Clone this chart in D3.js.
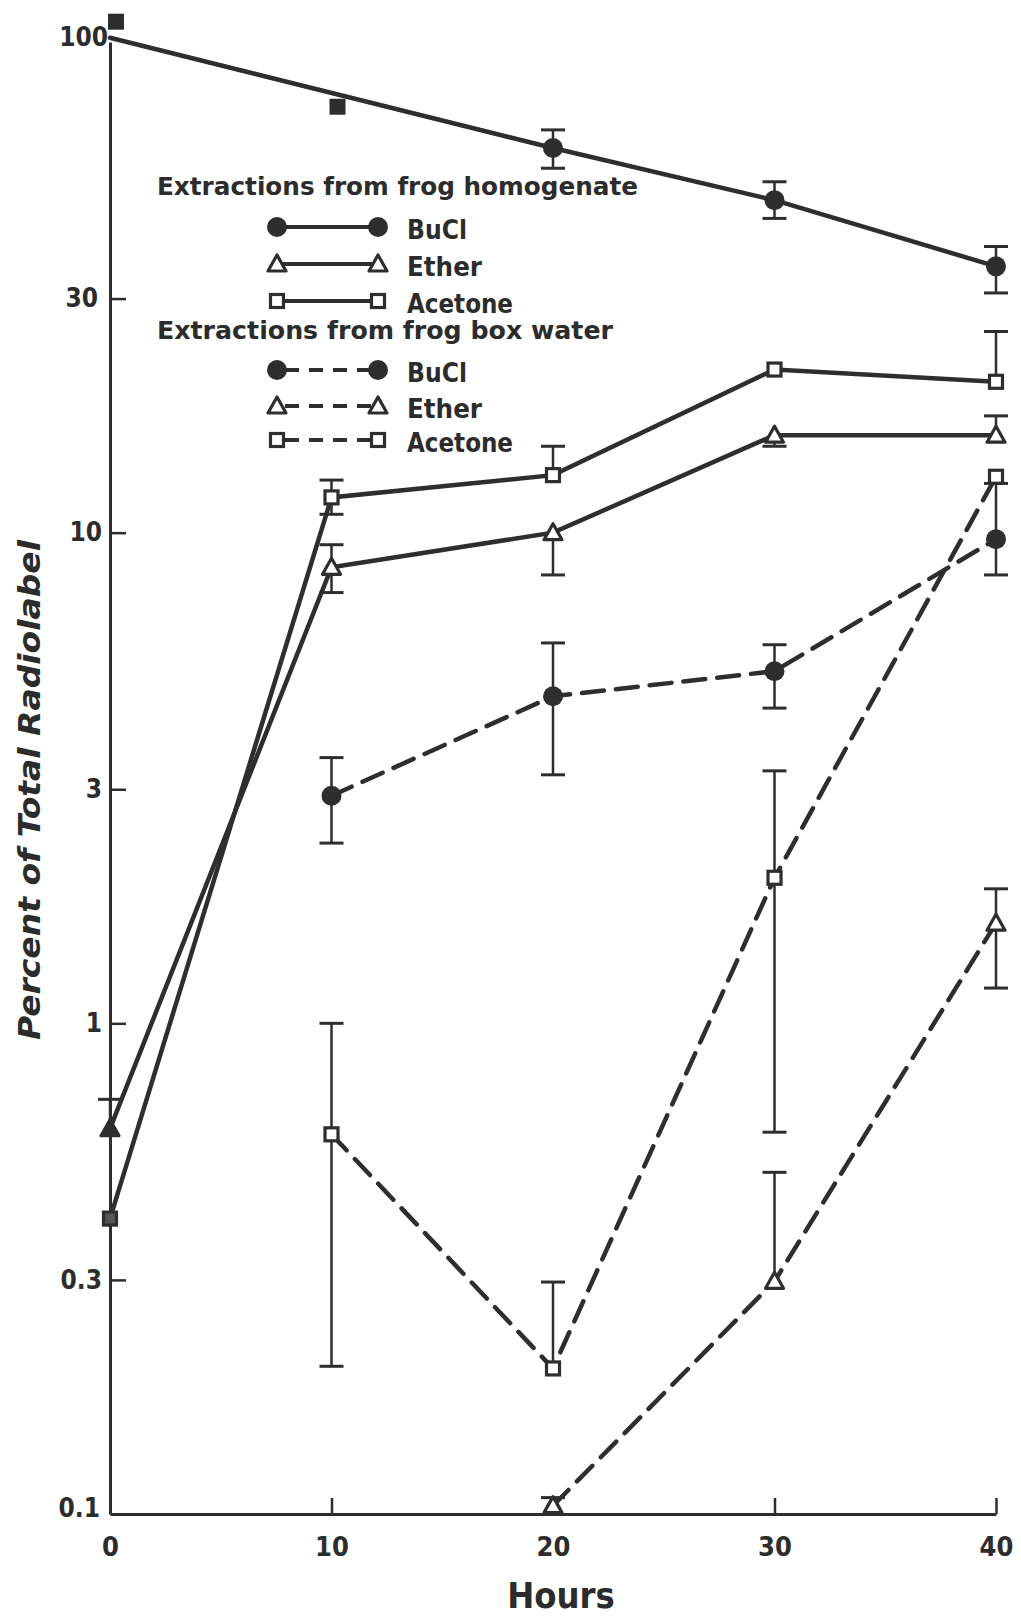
<!DOCTYPE html>
<html>
<head>
<meta charset="utf-8">
<script src="https://cdn.jsdelivr.net/npm/d3@7"></script>
<style>
  html, body { margin: 0; padding: 0; background: #ffffff; }
  svg { display: block; }
  text {
    font-family: "DejaVu Sans Condensed", "Liberation Sans Narrow", "DejaVu Sans", sans-serif;
    font-weight: bold;
    fill: #2c2c2c;
  }
</style>
</head>
<body>
<svg id="chart" width="1021" height="1618"></svg>
<script>
// ---- Axis ticks ----
const hourTicks = [0, 10, 20, 30, 40];
const percentTicks = [0.1, 0.3, 1, 3, 10, 30, 100];
const percentTickLabels = ["0.1", "0.3", "1", "3", "10", "30", "100"];

// ---- Extractions from frog homogenate ----
// BuCl: solid line with filled circles (plus the two early filled squares)
const homBuClHours = [0, 20, 30, 40];
const homBuClValues = [102, 60.8, 47.6, 34.9];
const homBuClLow = [null, 55.3, 43.7, 30.8];
const homBuClHigh = [null, 66.2, 51.9, 38.3];
const homBuClEarlyHours = [0, 10];
const homBuClEarlyValues = [110, 73.8];

// Ether: solid line with open triangles
const homEtherHours = [0, 10, 20, 30, 40];
const homEtherValues = [0.61, 8.5, 10.0, 15.8, 15.8];
const homEtherLow = [null, 7.55, 8.2, 15.0, null];
const homEtherHigh = [0.70, 9.45, null, null, 17.3];

// Acetone: solid line with open squares
const homAcetoneHours = [0, 10, 20, 30, 40];
const homAcetoneValues = [0.40, 11.8, 13.1, 21.5, 20.3];
const homAcetoneLow = [null, 10.9, null, null, null];
const homAcetoneHigh = [null, 12.8, 15.0, null, 25.7];

// ---- Extractions from frog box water ----
const boxBuClHours = [10, 20, 30, 40];
const boxBuClValues = [2.91, 4.64, 5.22, 9.7];
const boxBuClLow = [2.33, 3.21, 4.39, 8.2];
const boxBuClHigh = [3.48, 5.96, 5.91, 12.6];

const boxEtherHours = [20, 30, 40];
const boxEtherValues = [0.104, 0.298, 1.6];
const boxEtherLow = [null, null, 1.18];
const boxEtherHigh = [0.108, 0.497, 1.88];

const boxAcetoneHours = [10, 20, 30, 40];
const boxAcetoneValues = [0.594, 0.198, 1.98, 13.0];
const boxAcetoneLow = [0.2, null, 0.6, null];
const boxAcetoneHigh = [1.0, 0.297, 3.27, null];

// ---- Legend ----
const legendTitles = ["Extractions from frog homogenate", "Extractions from frog box water"];
const legendNames = ["BuCl", "Ether", "Acetone"];

const ink = "#2e2e2e";
const svg = d3.select("#chart");

const x = d3.scaleLinear().domain([0, 40]).range([110, 996]);
const y = d3.scaleLog().domain([0.1, 100]).range([1514, 42]);

function zip(hours, values, low, high) {
  return hours.map((h, i) => ({ h, v: values[i], lo: low ? low[i] : null, hi: high ? high[i] : null }));
}

// startMark: whether the first point of the series carries its own marker
const series = [
  { pts: zip(homBuClHours, homBuClValues, homBuClLow, homBuClHigh), marker: "circle", dashed: false, startMark: false },
  { pts: zip(homEtherHours, homEtherValues, homEtherLow, homEtherHigh), marker: "triangle", dashed: false, startMark: true },
  { pts: zip(homAcetoneHours, homAcetoneValues, homAcetoneLow, homAcetoneHigh), marker: "square", dashed: false, startMark: true },
  { pts: zip(boxBuClHours, boxBuClValues, boxBuClLow, boxBuClHigh), marker: "circle", dashed: true, startMark: true },
  { pts: zip(boxEtherHours, boxEtherValues, boxEtherLow, boxEtherHigh), marker: "triangle", dashed: true, startMark: true },
  { pts: zip(boxAcetoneHours, boxAcetoneValues, boxAcetoneLow, boxAcetoneHigh), marker: "square", dashed: true, startMark: true }
];

// ---- Axes ----
const yAxis = d3.axisLeft(y)
  .tickValues(percentTicks)
  .tickFormat((d, i) => percentTickLabels[i])
  .tickSizeInner(-16)
  .tickSizeOuter(0)
  .tickPadding(8);

const gy = svg.append("g").attr("transform", `translate(${x(0)},0)`).call(yAxis);
gy.select(".domain").attr("stroke", ink).attr("stroke-width", 3);
gy.selectAll(".tick line").attr("stroke", ink).attr("stroke-width", 2.5)
  .filter(d => d === 100 || d === 0.1).remove();
gy.selectAll(".tick text")
  .attr("font-size", 26)
  .attr("fill", ink);
gy.selectAll(".tick text").filter(d => d === 0.1).attr("dy", "0.1em").attr("x", -10);
gy.selectAll(".tick text").filter(d => d === 100).attr("dy", "0.12em").attr("x", -2);
gy.selectAll(".tick text").filter(d => d === 30).attr("x", -12);
gy.attr("font-family", null).attr("font-size", null);

const xAxis = d3.axisBottom(x)
  .tickValues(hourTicks)
  .tickSizeInner(-16)
  .tickSizeOuter(0)
  .tickPadding(23);

const gx = svg.append("g").attr("transform", `translate(0,${y(0.1)})`).call(xAxis);
gx.select(".domain").attr("stroke", ink).attr("stroke-width", 3);
gx.selectAll(".tick line").attr("stroke", ink).attr("stroke-width", 2.5)
  .filter(d => d === 0).remove();
gx.selectAll(".tick text").attr("font-size", 27).attr("fill", ink);
gx.attr("font-family", null).attr("font-size", null);

// Axis titles
svg.append("text")
  .attr("x", x(20) + 8).attr("y", 1608)
  .attr("text-anchor", "middle")
  .attr("font-size", 36)
  .text("Hours");

svg.append("text")
  .attr("transform", "translate(40,790) rotate(-90)")
  .attr("text-anchor", "middle")
  .attr("font-size", 31)
  .attr("font-style", "italic")
  .attr("textLength", 500)
  .attr("lengthAdjust", "spacingAndGlyphs")
  .text("Percent of Total Radiolabel");

// ---- Lines ----
const line = d3.line().x(d => x(d.h)).y(d => y(d.v));
const plot = svg.append("g");

series.forEach(s => {
  plot.append("path")
    .datum(s.pts)
    .attr("d", line)
    .attr("fill", "none")
    .attr("stroke", ink)
    .attr("stroke-width", 4.5)
    .attr("stroke-linecap", "round")
    .attr("stroke-dasharray", s.dashed ? "22,12" : null);
});

// ---- Error bars ----
const capHalf = 12;
series.forEach(s => {
  s.pts.forEach(p => {
    if (p.lo == null && p.hi == null) return;
    const top = p.hi != null ? p.hi : p.v;
    const bot = p.lo != null ? p.lo : p.v;
    const cx = x(p.h);
    plot.append("line")
      .attr("x1", cx).attr("x2", cx)
      .attr("y1", y(top)).attr("y2", y(bot))
      .attr("stroke", ink).attr("stroke-width", 2.5);
    [p.hi, p.lo].forEach(val => {
      if (val == null) return;
      plot.append("line")
        .attr("x1", cx - capHalf).attr("x2", cx + capHalf)
        .attr("y1", y(val)).attr("y2", y(val))
        .attr("stroke", ink).attr("stroke-width", 3);
    });
  });
});

// ---- Markers ----
function marker(g, type, cx, cy, solid) {
  if (type === "circle") {
    g.append("circle").attr("cx", cx).attr("cy", cy).attr("r", 10).attr("fill", ink);
  } else if (type === "triangle") {
    g.append("path")
      .attr("d", `M${cx},${cy - 9}L${cx + 9},${cy + 7}L${cx - 9},${cy + 7}Z`)
      .attr("fill", solid ? ink : "#ffffff")
      .attr("stroke", ink).attr("stroke-width", 3.2).attr("stroke-linejoin", "round");
  } else if (type === "square") {
    g.append("rect")
      .attr("x", cx - 6.5).attr("y", cy - 6.5).attr("width", 13).attr("height", 13)
      .attr("fill", solid ? "#555555" : "#ffffff")
      .attr("stroke", ink).attr("stroke-width", 3.2);
  } else if (type === "block") {
    g.append("rect")
      .attr("x", cx - 8).attr("y", cy - 8).attr("width", 16).attr("height", 16)
      .attr("fill", ink);
  }
}

series.forEach(s => {
  s.pts.forEach((p, i) => {
    if (i === 0 && !s.startMark) return;
    marker(plot, s.marker, x(p.h), y(p.v), p.h === 0);
  });
});
homBuClEarlyHours.forEach((h, i) => marker(plot, "block", x(h) + 6, y(homBuClEarlyValues[i]), true));

// ---- Legend ----
const legend = svg.append("g");
const titleY = [195, 339];
const rowY = [[227, 264, 301], [370, 406, 440]];
const titleLen = [481, 456];
const nameLen = [60, 75, 106];
const markerTypes = ["circle", "triangle", "square"];

legendTitles.forEach((t, gi) => {
  legend.append("text")
    .attr("x", 157).attr("y", titleY[gi])
    .attr("font-size", 25)
    .attr("textLength", titleLen[gi])
    .attr("lengthAdjust", "spacingAndGlyphs")
    .text(t);
  legendNames.forEach((n, ri) => {
    const yy = rowY[gi][ri];
    legend.append("line")
      .attr("x1", 279).attr("x2", 376)
      .attr("y1", yy).attr("y2", yy)
      .attr("stroke", ink).attr("stroke-width", 4)
      .attr("stroke-dasharray", gi === 1 ? "14,10" : null)
      .attr("stroke-dashoffset", gi === 1 ? -6 : null);
    marker(legend, markerTypes[ri], 277, yy, false);
    marker(legend, markerTypes[ri], 378, yy, false);
    legend.append("text")
      .attr("x", 407).attr("y", yy + 12)
      .attr("font-size", 27)
      .attr("textLength", nameLen[ri])
      .attr("lengthAdjust", "spacingAndGlyphs")
      .text(n);
  });
});
</script>
</body>
</html>
